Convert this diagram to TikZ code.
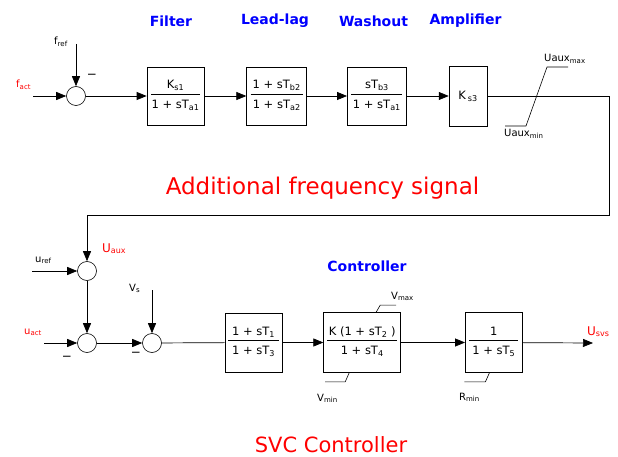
\documentclass[tikz,border=0pt]{standalone}
\usepackage{fontspec}
\setmainfont{DejaVu Sans}
\usepackage{xcolor}
\usepackage{tikz}
\usetikzlibrary{positioning,arrows.meta}

\definecolor{titleblue}{RGB}{0,0,255}
\definecolor{sigred}{RGB}{255,0,0}

\setlength{\arrayrulewidth}{0.6pt}
\newcommand{\tfbox}[3]{\begin{tabular}{@{}c@{}}\makebox[#1]{#2}\\[1pt]\hline\rule{0pt}{14pt}#3\end{tabular}}

\begin{document}
\begin{tikzpicture}[
    x=1pt, y=-1pt,
    node distance=42pt,
    box/.style={
        rectangle,
        draw,
        line width=0.7pt,
        minimum width=57pt,
        minimum height=58pt,
        inner sep=0pt,
        font=\fontsize{11.5}{13}\selectfont
    },
    sumpt/.style={
        circle,
        draw,
        line width=0.6pt,
        minimum size=19pt,
        inner sep=0pt
    },
    arrow/.style={
        -{Triangle[length=10pt,width=8pt]},
        line width=0.7pt
    },
    lbl/.style={
        font=\fontsize{10}{12}\selectfont,
        inner sep=0pt,
        anchor=base west
    },
    title/.style={
        font=\fontsize{14}{16}\selectfont\bfseries,
        text=titleblue
    },
    caption/.style={
        font=\fontsize{23}{26}\selectfont,
        text=sigred,
        anchor=base
    }
]
\useasboundingbox (0,0) rectangle (618,457);

% additional frequency signal
\node[sumpt] (sumf) at (76,96) {};

\node[box] (filter) at (175.5,96)
{\tfbox{49pt}{K\textsubscript{s1}}{1 + sT\textsubscript{a1}}};

\node[box, minimum width=60pt, right=of filter] (leadlag)
{\tfbox{52pt}{1 + sT\textsubscript{b2}}{1 + sT\textsubscript{a2}}};

\node[box, minimum width=59pt, right=40pt of leadlag] (washout)
{\tfbox{51pt}{sT\textsubscript{b3}}{1 + sT\textsubscript{a1}}};

\node[box, minimum width=38pt, minimum height=60pt, right=of washout] (amp)
{K\,\textsubscript{s3}};

\coordinate (fact) at (33,96);
\coordinate (fref) at (76,44);
\coordinate (limit) at (609,96);
\coordinate (back) at (609,215);
\coordinate (down) at (87,215);

\node[lbl, text=sigred] (factlbl) at (16,88) {f\textsubscript{act}};
\node[lbl] (freflbl) at (54,45) {f\textsubscript{ref}};
\node[font=\fontsize{12}{14}\selectfont, inner sep=0pt] (freminus) at (92,76) {−};

\node[title] (filtertitle) at (171,21) {Filter};
\node[title] (leadlagtitle) at (275,21) {Lead-lag};
\node[title] (washouttitle) at (373.5,21) {Washout};
\node[title] (amptitle) at (465.5,21) {Amplifier};

% limiter
\draw[line width=0.6pt] (505,126) -- (526,126) -- (547,67) -- (568,67);
\node[lbl] (uauxmax) at (544,62) {Uaux\textsubscript{max}};
\node[lbl] (uauxmin) at (504,137) {Uaux\textsubscript{min}};

\draw[arrow] (fact) -- (sumf);
\draw[arrow] (fref) -- (sumf);
\draw[arrow] (sumf) -- (filter);
\draw[arrow] (filter) -- (leadlag);
\draw[arrow] (leadlag) -- (washout);
\draw[arrow] (washout) -- (amp);

\node[caption] (freqcaption) at (322.5,194) {Additional frequency signal};

% SVC controller
\node[sumpt] (sumu) at (87,271) {};
\node[sumpt] (suma) at (87,343) {};
\node[sumpt] (sumv) at (152,343) {};

\node[box, minimum height=59pt] (lead1) at (253.5,342.5)
{\tfbox{51pt}{1 + sT\textsubscript{1}}{1 + sT\textsubscript{3}}};

\node[box, minimum width=77pt, minimum height=60pt, right=41pt of lead1] (ctrl)
{\tfbox{70pt}{K (1 + sT\textsubscript{2} )}{1 + sT\textsubscript{4}}};

\node[box, minimum height=60pt, right=64pt of ctrl] (lag)
{\tfbox{49pt}{1}{1 + sT\textsubscript{5}}};

\coordinate (uref) at (32,271);
\coordinate (uact) at (44,343);
\coordinate (vs) at (152,290);
\coordinate (usvs) at (593,343);

\node[lbl] (ureflbl) at (35,262) {u\textsubscript{ref}};
\node[lbl, text=sigred, font=\fontsize{12}{14}\selectfont] (uauxlbl) at (102,252) {U\textsubscript{aux}};
\node[lbl, text=sigred] (uactlbl) at (24,334) {u\textsubscript{act}};
\node[lbl] (vslbl) at (129,291) {V\textsubscript{s}};
\node[lbl, text=sigred, font=\fontsize{12}{14}\selectfont] (usvslbl) at (587,335) {U\textsubscript{svs}};
\node[font=\fontsize{12}{14}\selectfont, inner sep=0pt] (uactminus) at (67,358) {−};
\node[font=\fontsize{12}{14}\selectfont, inner sep=0pt] (vsminus) at (136,354) {−};

\node[title] (ctrltitle) at (367,266) {Controller};

\draw[arrow] (amp) -- (limit) -- (back) -- (down) -- (sumu);
\draw[arrow] (uref) -- (sumu);
\draw[arrow] (sumu) -- (suma);
\draw[arrow] (uact) -- (suma);
\draw[arrow] (suma) -- (sumv);
\draw[arrow] (vs) -- (sumv);
\draw[line width=0.7pt] (sumv) -- (lead1);
\draw[arrow] (lead1) -- (ctrl);
\draw[arrow] (ctrl) -- (lag);
\draw[arrow] (lag) -- (usvs);

% limits
\draw[line width=0.6pt] ([xshift=14pt]ctrl.north) -- ++(4,-7) -- ++(16,0);
\draw[line width=0.6pt] ([xshift=-13pt]ctrl.south) -- ++(-4,9) -- ++(-20,0);
\draw[line width=0.6pt] ([xshift=-4.5pt]lag.south) -- ++(-4,9) -- ++(-21,0);
\node[lbl] (vmaxlbl) at (391,299) {V\textsubscript{max}};
\node[lbl] (vminlbl) at (317,401) {V\textsubscript{min}};
\node[lbl] (rminlbl) at (459,400) {R\textsubscript{min}};

\node[caption, font=\fontsize{21}{24}\selectfont] (svccaption) at (331,452) {SVC Controller};

\end{tikzpicture}
\end{document}
